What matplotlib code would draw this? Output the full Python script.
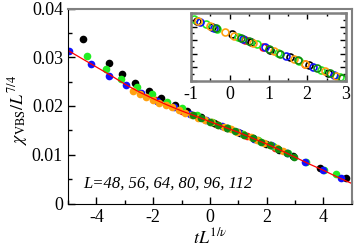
import matplotlib

matplotlib.use("Agg")
import matplotlib.pyplot as plt
from matplotlib.ticker import MultipleLocator

plt.rcParams["font.family"] = ["Liberation Serif", "DejaVu Serif"]
plt.rcParams["mathtext.fontset"] = "stix"
plt.rcParams["axes.unicode_minus"] = False

# scaling-function fit (main panel)
fit_x = [-5, -4.5, -4, -3.5, -3, -2.5, -2, -1.5, -1, -0.5, 0,
         0.5, 1, 1.5, 2, 2.5, 3, 3.5, 4, 4.5, 5]
fit_y = [0.0314, 0.0297, 0.0280, 0.0263, 0.0245, 0.0229, 0.0215, 0.0202, 0.0190,
         0.0179, 0.0168, 0.0157, 0.0146, 0.0134, 0.0122, 0.0109, 0.0095, 0.0081,
         0.0068, 0.0054, 0.0041]

# main panel data, one list per system size
x_48 = [-4.48, -3.56, -3.10, -2.63, -2.16, -1.71, -1.24, -0.79, -0.33, 0.13, 0.60,
        1.06, 1.52, 1.98, 2.45, 2.91, 3.86, 4.78]
y_48 = [0.0337, 0.0288, 0.0266, 0.0248, 0.0231, 0.0216, 0.0202, 0.0190, 0.0177,
        0.0166, 0.0155, 0.0144, 0.0134, 0.0123, 0.0110, 0.0097, 0.0073, 0.0053]
x_56 = [-4.33, -3.67, -3.13, -2.56, -2.03, -1.50, -0.97, -0.44, 0.09, 0.62, 1.15,
        1.68, 2.21, 2.74, 3.40, 4.02, 4.45]
y_56 = [0.0303, 0.0275, 0.0255, 0.0238, 0.0224, 0.0209, 0.0195, 0.0181, 0.0167,
        0.0155, 0.0143, 0.0130, 0.0117, 0.0103, 0.0086, 0.0069, 0.0061]
x_64 = [-4.96, -4.19, -3.56, -2.95, -2.42, -1.85, -1.28, -0.71, -0.14, 0.43, 1.00,
        1.57, 2.14, 2.71, 3.34, 3.99, 4.60]
y_64 = [0.0313, 0.0286, 0.0262, 0.0243, 0.0226, 0.0211, 0.0197, 0.0184, 0.0171,
        0.0158, 0.0146, 0.0132, 0.0119, 0.0104, 0.0085, 0.0069, 0.0052]
x_80 = [-2.71, -2.48, -2.25, -2.02, -1.79, -1.56, -1.33, -1.10, -0.87, -0.64, -0.41,
        -0.18, 0.05, 0.28, 0.51, 0.74, 0.97, 1.20, 1.43, 1.66, 1.89, 2.12, 2.35, 2.58]
y_80 = [0.0231, 0.0224, 0.0218, 0.0212, 0.0207, 0.0202, 0.0197, 0.0191, 0.0186,
        0.0181, 0.0176, 0.0171, 0.0167, 0.0162, 0.0157, 0.0152, 0.0147, 0.0141,
        0.0136, 0.0130, 0.0125, 0.0119, 0.0113, 0.0107]
x_96 = [-0.60, -0.30, 0.00, 0.30, 0.60, 0.90, 1.20, 1.50, 1.80, 2.10, 2.40, 2.70, 2.97]
y_96 = [0.0181, 0.0175, 0.0168, 0.0161, 0.0155, 0.0148, 0.0141, 0.0134, 0.0127,
        0.0120, 0.0112, 0.0104, 0.0096]
x_112 = [-1.90, -1.00, 0.20, 1.30, 2.30]
y_112 = [0.0213, 0.0190, 0.0164, 0.0139, 0.0113]

# inset data
ix_48 = [-0.85, -0.45, 0.05, 0.55, 1.05, 1.55, 2.05, 2.55]
iy_48 = [0.887, 0.797, 0.685, 0.572, 0.460, 0.347, 0.235, 0.122]
ix_56 = [-0.93, -0.62, -0.32, 0.20, 0.70, 1.25, 1.80, 2.35, 2.85]
iy_56 = [0.905, 0.836, 0.768, 0.651, 0.539, 0.415, 0.291, 0.167, 0.055]
ix_64 = [-0.78, -0.40, 0.35, 0.90, 1.45, 2.15, 2.70]
iy_64 = [0.872, 0.786, 0.617, 0.494, 0.370, 0.212, 0.089]
ix_80 = [-0.82, -0.50, -0.12, 0.12, 0.60, 1.15, 1.65, 1.95, 2.45, 2.75]
iy_80 = [0.880, 0.809, 0.723, 0.669, 0.561, 0.437, 0.325, 0.257, 0.145, 0.077]
ix_96 = [-0.35, 0.28, 0.50, 1.00, 1.30, 1.75, 2.25, 2.60, 2.90]
iy_96 = [0.775, 0.633, 0.584, 0.471, 0.404, 0.302, 0.190, 0.111, 0.044]
ix_112 = [0.40, 0.85, 1.95]
iy_112 = [0.606, 0.505, 0.257]

y_ticks = [0, 0.01, 0.02, 0.03, 0.04]
y_tick_labels = ["0", "0.01", "0.02", "0.03", "0.04"]

colors = {"48": "black", "56": "#22ee22", "64": "#1010ff",
          "80": "#ffa010", "96": "#108a10", "112": "#ff1010"}
main_sets = [("112", x_112, y_112), ("48", x_48, y_48), ("56", x_56, y_56),
             ("64", x_64, y_64), ("80", x_80, y_80), ("96", x_96, y_96)]
inset_sets = [("112", ix_112, iy_112), ("48", ix_48, iy_48), ("56", ix_56, iy_56),
              ("64", ix_64, iy_64), ("80", ix_80, iy_80), ("96", ix_96, iy_96)]

fig = plt.figure(figsize=(3.54, 2.5), dpi=100)
ax = fig.add_axes([0.192, 0.186, 0.802, 0.780])

for key, xs, ys in main_sets:
    ax.plot(xs, ys, "o", ms=5.5, color=colors[key], mec="none")
ax.plot(fit_x, fit_y, "-", color="red", lw=0.9)

ax.set_xlim(-5, 5)
ax.set_ylim(0, 0.04)
ax.xaxis.set_major_locator(MultipleLocator(2))
ax.xaxis.set_minor_locator(MultipleLocator(1))
ax.set_yticks(y_ticks)
ax.set_yticklabels(y_tick_labels)
ax.yaxis.set_minor_locator(MultipleLocator(0.005))
ax.tick_params(which="both", direction="in", labelsize=13, top=False, right=False)
ax.tick_params(which="major", length=5, width=1)
ax.tick_params(which="minor", length=3, width=1)
ax.tick_params(axis="x", pad=4)
for side in ("top", "right"):
    ax.spines[side].set_color("#808080")
    ax.spines[side].set_linewidth(1.5)

ax.set_ylabel(r"$\chi_{\rm VBS}/L^{7/4}$", fontsize=13)
ax.yaxis.set_label_coords(-0.135, 0.48)
ax.set_xlabel(r"$tL^{1/\nu}$", fontsize=13)
ax.xaxis.set_label_coords(0.50, -0.125)
ax.text(0.053, 0.10, "L=48, 56, 64, 80, 96, 112", transform=ax.transAxes,
        fontsize=12, style="italic", va="center")

ins = fig.add_axes([0.540, 0.676, 0.437, 0.272])
for key, xs, ys in inset_sets:
    ins.plot(xs, ys, "o", ms=5, mfc="none", mec=colors[key], mew=1.2)
ins.set_xlim(-1, 3)
ins.set_ylim(0, 1)
ins.xaxis.set_major_locator(MultipleLocator(1))
ins.xaxis.set_minor_locator(MultipleLocator(0.5))
ins.yaxis.set_major_locator(MultipleLocator(0.2))
ins.yaxis.set_minor_locator(MultipleLocator(0.1))
ins.tick_params(which="both", direction="in", top=True, right=True, labelsize=13,
                labelleft=False)
ins.tick_params(which="major", length=4, width=1)
ins.tick_params(which="minor", length=2.5, width=1)
for s in ins.spines.values():
    s.set_color("#808080")
    s.set_linewidth(1.8)

fig.savefig("out.png", dpi=100)
